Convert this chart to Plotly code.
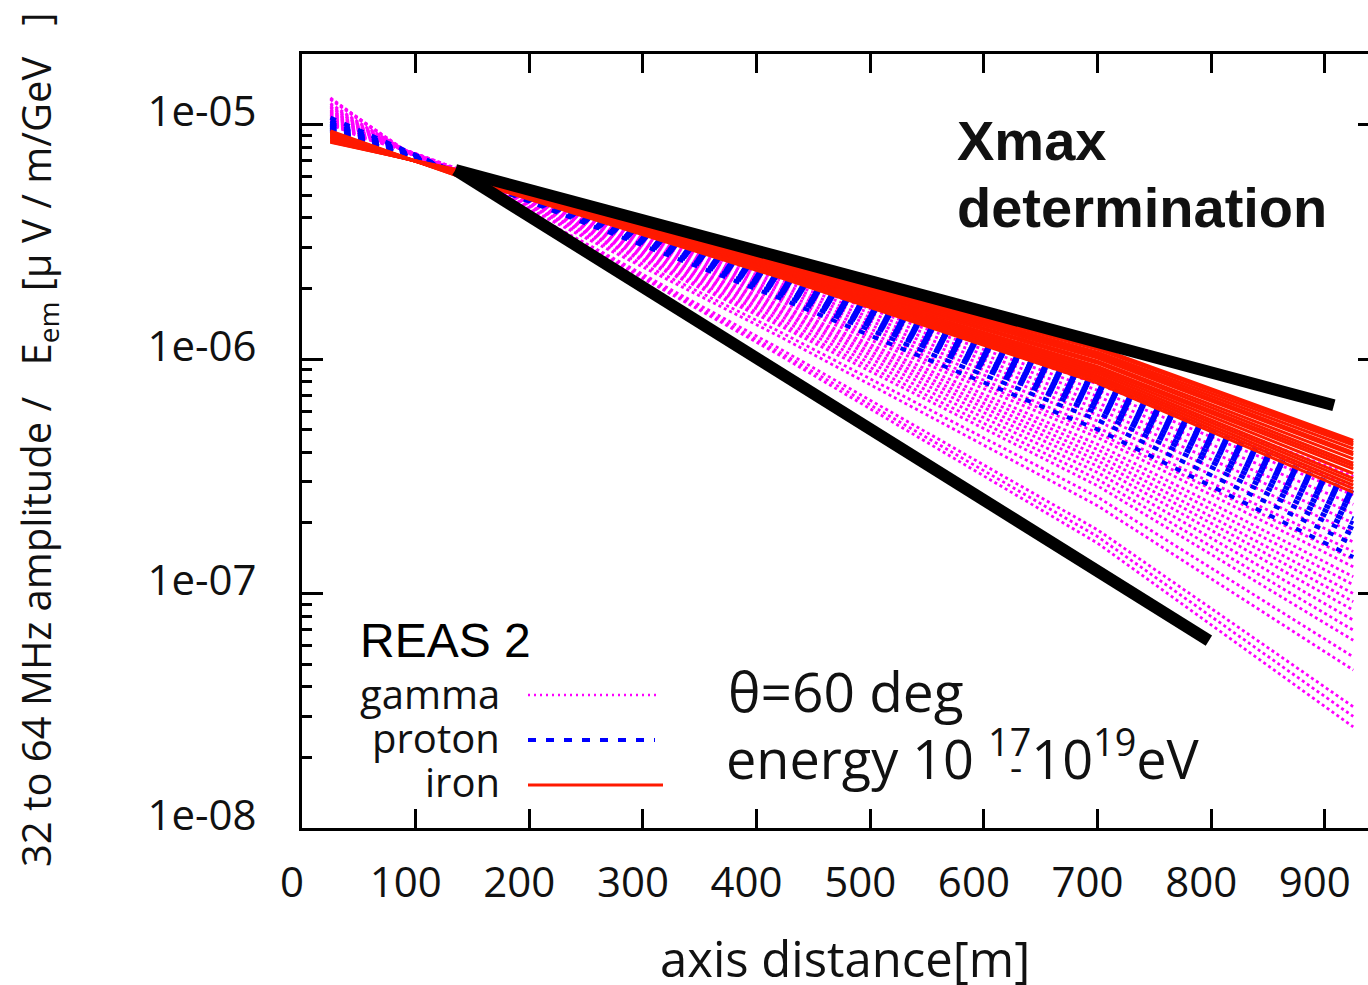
import plotly.graph_objects as go

# Lateral distribution of the radio signal, REAS 2 simulations (theta = 60 deg)
# Amplitudes in the 32-64 MHz band, normalised by E_em

X_GAMMA = [25, 55, 95, 155, 420, 700, 925]
GAMMA = [
    [1.00e-5, 8.71e-6, 7.67e-6, 6.03e-6, 2.40e-6, 8.32e-7, 3.16e-7],
    [1.01e-5, 8.76e-6, 7.66e-6, 6.01e-6, 2.32e-6, 7.83e-7, 2.88e-7],
    [1.02e-5, 8.81e-6, 7.66e-6, 5.98e-6, 2.25e-6, 7.36e-7, 2.63e-7],
    [1.03e-5, 8.87e-6, 7.65e-6, 5.96e-6, 2.18e-6, 6.93e-7, 2.40e-7],
    [1.04e-5, 8.92e-6, 7.64e-6, 5.94e-6, 2.11e-6, 6.52e-7, 2.19e-7],
    [1.05e-5, 8.98e-6, 7.64e-6, 5.92e-6, 2.05e-6, 6.14e-7, 2.00e-7],
    [1.06e-5, 9.03e-6, 7.63e-6, 5.90e-6, 1.99e-6, 5.77e-7, 1.82e-7],
    [1.07e-5, 9.08e-6, 7.63e-6, 5.88e-6, 1.93e-6, 5.44e-7, 1.66e-7],
    [1.08e-5, 9.14e-6, 7.62e-6, 5.86e-6, 1.87e-6, 5.11e-7, 1.51e-7],
    [1.09e-5, 9.19e-6, 7.61e-6, 5.84e-6, 1.82e-6, 4.85e-7, 1.40e-7],
    [1.10e-5, 9.23e-6, 7.61e-6, 5.83e-6, 1.77e-6, 4.63e-7, 1.30e-7],
    [1.11e-5, 9.29e-6, 7.60e-6, 5.81e-6, 1.71e-6, 4.33e-7, 1.18e-7],
    [1.12e-5, 9.34e-6, 7.60e-6, 5.79e-6, 1.67e-6, 4.11e-7, 1.09e-7],
    [1.13e-5, 9.39e-6, 7.59e-6, 5.77e-6, 1.62e-6, 3.89e-7, 1.00e-7],
    [1.14e-5, 9.44e-6, 7.59e-6, 5.75e-6, 1.58e-6, 3.69e-7, 9.23e-8],
    [1.15e-5, 9.49e-6, 7.58e-6, 5.74e-6, 1.53e-6, 3.49e-7, 8.49e-8],
    [1.16e-5, 9.55e-6, 7.57e-6, 5.71e-6, 1.48e-6, 3.28e-7, 7.71e-8],
    [1.18e-5, 9.62e-6, 7.57e-6, 5.69e-6, 1.43e-6, 3.07e-7, 6.98e-8],
    [1.19e-5, 9.68e-6, 7.56e-6, 5.67e-6, 1.39e-6, 2.88e-7, 6.32e-8],
    [1.21e-5, 9.78e-6, 7.55e-6, 5.64e-6, 1.31e-6, 2.58e-7, 5.37e-8],
    [1.23e-5, 9.86e-6, 7.54e-6, 5.61e-6, 1.25e-6, 2.37e-7, 4.72e-8],
    [1.28e-5, 1.01e-5, 7.51e-6, 5.53e-6, 1.11e-6, 1.87e-7, 3.29e-8],
    [1.29e-5, 1.02e-5, 7.50e-6, 5.51e-6, 1.07e-6, 1.75e-7, 2.99e-8],
    [1.30e-5, 1.02e-5, 7.50e-6, 5.50e-6, 1.04e-6, 1.64e-7, 2.70e-8],
]

X_PROTON = [25, 155, 420, 700, 925]
PROTON = [
    [9.42e-6, 5.82e-6, 2.23e-6, 7.94e-7, 2.69e-7],
    [9.49e-6, 5.81e-6, 2.20e-6, 7.73e-7, 2.59e-7],
    [9.56e-6, 5.80e-6, 2.18e-6, 7.52e-7, 2.49e-7],
    [9.64e-6, 5.80e-6, 2.15e-6, 7.31e-7, 2.40e-7],
    [9.73e-6, 5.79e-6, 2.12e-6, 7.08e-7, 2.30e-7],
    [9.81e-6, 5.78e-6, 2.09e-6, 6.85e-7, 2.20e-7],
    [9.92e-6, 5.77e-6, 2.05e-6, 6.61e-7, 2.09e-7],
    [1.00e-5, 5.76e-6, 2.02e-6, 6.37e-7, 1.99e-7],
    [1.01e-5, 5.75e-6, 1.99e-6, 6.14e-7, 1.89e-7],
    [1.02e-5, 5.74e-6, 1.95e-6, 5.89e-7, 1.78e-7],
    [1.04e-5, 5.71e-6, 1.89e-6, 5.50e-7, 1.62e-7],
    [1.07e-5, 5.69e-6, 1.82e-6, 5.01e-7, 1.43e-7],
]

X_IRON = [25, 155, 420, 700, 925]
IRON = [
    [8.40e-6, 6.15e-6, 2.57e-6, 1.12e-6, 4.50e-7],
    [8.45e-6, 6.10e-6, 2.55e-6, 1.10e-6, 4.40e-7],
    [8.50e-6, 6.05e-6, 2.52e-6, 1.07e-6, 4.30e-7],
    [8.60e-6, 6.00e-6, 2.50e-6, 1.05e-6, 4.15e-7],
    [8.65e-6, 5.98e-6, 2.48e-6, 1.03e-6, 4.00e-7],
    [8.70e-6, 5.95e-6, 2.45e-6, 1.01e-6, 3.90e-7],
    [8.80e-6, 5.90e-6, 2.43e-6, 9.80e-7, 3.75e-7],
    [8.85e-6, 5.87e-6, 2.41e-6, 9.60e-7, 3.60e-7],
    [8.90e-6, 5.83e-6, 2.38e-6, 9.30e-7, 3.50e-7],
    [9.00e-6, 5.80e-6, 2.36e-6, 9.10e-7, 3.40e-7],
    [9.05e-6, 5.77e-6, 2.34e-6, 8.90e-7, 3.25e-7],
    [9.10e-6, 5.74e-6, 2.32e-6, 8.70e-7, 3.10e-7],
    [9.20e-6, 5.70e-6, 2.30e-6, 8.50e-7, 3.00e-7],
    [9.25e-6, 5.68e-6, 2.28e-6, 8.30e-7, 2.90e-7],
    [9.30e-6, 5.65e-6, 2.25e-6, 8.10e-7, 2.80e-7],
    [9.40e-6, 5.62e-6, 2.23e-6, 7.90e-7, 2.70e-7],
]

# Envelope lines bracketing the slopes
GUIDE_UPPER_X = [135, 908]
GUIDE_UPPER_Y = [6.4e-6, 6.35e-7]
GUIDE_LOWER_X = [135, 798]
GUIDE_LOWER_Y = [6.4e-6, 6.3e-8]

X_TICKS = [0, 100, 200, 300, 400, 500, 600, 700, 800, 900]
Y_TICKS = [1e-8, 1e-7, 1e-6, 1e-5]
Y_TICK_TEXT = ["1e-08", "1e-07", "1e-06", "1e-05"]

MAGENTA = "#ff00ff"
BLUE = "#0000ff"
RED = "#ff1a00"

LABEL_FONT = "Open Sans"
TEXT = "#111111"

fig = go.Figure()

for ys in GAMMA:
    fig.add_trace(go.Scatter(x=X_GAMMA, y=ys, mode="lines", showlegend=False,
                             line=dict(color=MAGENTA, width=2.8, dash="3px,3px")))
for ys in PROTON:
    fig.add_trace(go.Scatter(x=X_PROTON, y=ys, mode="lines", showlegend=False,
                             line=dict(color=BLUE, width=4, dash="6px,9px")))
for ys in IRON:
    fig.add_trace(go.Scatter(x=X_IRON, y=ys, mode="lines", showlegend=False,
                             line=dict(color=RED, width=3)))

for gx, gy in ((GUIDE_UPPER_X, GUIDE_UPPER_Y), (GUIDE_LOWER_X, GUIDE_LOWER_Y)):
    fig.add_trace(go.Scatter(x=gx, y=gy, mode="lines", showlegend=False,
                             line=dict(color="black", width=12)))

# invisible trace carrying the right-hand tick axis
fig.add_trace(go.Scatter(x=[None], y=[None], yaxis="y2", showlegend=False,
                         hoverinfo="skip"))

minor_vals = [k * 10.0 ** e for e in range(-8, -4) for k in range(2, 10)] + [2e-5]

fig.update_layout(
    width=1368, height=985,
    margin=dict(l=302, r=0, t=54, b=157),
    paper_bgcolor="white", plot_bgcolor="white",
    xaxis=dict(
        range=[0, 938], tickvals=X_TICKS,
        ticks="inside", ticklen=19, tickwidth=2.5, tickcolor="black",
        showline=True, linewidth=3, linecolor="black", mirror="ticks",
        showgrid=False, zeroline=False,
        tickfont=dict(family=LABEL_FONT, size=42, color=TEXT),
        ticklabelstandoff=16, ticklabelshift=-10,
    ),
    yaxis=dict(
        type="log", range=[-8, -4.699],
        tickvals=Y_TICKS, ticktext=Y_TICK_TEXT,
        ticks="inside", ticklen=21, tickwidth=2.5, tickcolor="black",
        minor=dict(tickvals=minor_vals, ticks="inside", ticklen=10,
                   tickwidth=2.5, tickcolor="black", showgrid=False),
        showline=True, linewidth=3, linecolor="black",
        showgrid=False, zeroline=False,
        tickfont=dict(family=LABEL_FONT, size=42, color=TEXT),
        ticklabelstandoff=34, ticklabelshift=-13,
    ),
    yaxis2=dict(
        type="log", range=[-8, -4.699], overlaying="y", side="right",
        anchor="x", tickvals=Y_TICKS, ticks="inside", ticklen=10,
        tickwidth=2.5, tickcolor="black", showticklabels=False,
        showline=False, showgrid=False, zeroline=False,
    ),
)

def px_x(p):
    return (p - 302) / 1066.0

def px_y(p):
    return (828 - p) / 774.0

annotations = [
    dict(x=px_x(845), y=px_y(958), text="axis distance[m]",
         font=dict(family=LABEL_FONT, size=49, color=TEXT),
         xanchor="center", yanchor="middle"),
    dict(x=px_x(38), y=px_y(440),
         text="32 to 64 MHz amplitude /\u00a0\u00a0\u00a0E<sub>em</sub> [\u03bc V / m/GeV\u00a0\u00a0\u00a0]",
         textangle=-90, font=dict(family=LABEL_FONT, size=40, color=TEXT),
         xanchor="center", yanchor="middle"),
    dict(x=px_x(955), y=px_y(140), text="<b>Xmax</b>",
         font=dict(family="Liberation Sans", size=56, color=TEXT),
         xanchor="left", yanchor="middle"),
    dict(x=px_x(955), y=px_y(207), text="<b>determination</b>",
         font=dict(family="Liberation Sans", size=56, color=TEXT),
         xanchor="left", yanchor="middle"),
    dict(x=px_x(358), y=px_y(640), text="REAS 2",
         font=dict(family="Liberation Sans", size=48, color="black"),
         xanchor="left", yanchor="middle"),
    dict(x=px_x(502), y=px_y(693), text="gamma",
         font=dict(family=LABEL_FONT, size=40, color=TEXT),
         xanchor="right", yanchor="middle"),
    dict(x=px_x(502), y=px_y(737), text="proton",
         font=dict(family=LABEL_FONT, size=40, color=TEXT),
         xanchor="right", yanchor="middle"),
    dict(x=px_x(502), y=px_y(781), text="iron",
         font=dict(family=LABEL_FONT, size=40, color=TEXT),
         xanchor="right", yanchor="middle"),
    dict(x=px_x(726), y=px_y(690), text="\u03b8=60 deg",
         font=dict(family=LABEL_FONT, size=55, color=TEXT),
         xanchor="left", yanchor="middle"),
    dict(x=px_x(724), y=px_y(755),
         text="energy 10 <sup>17</sup>10<sup>19</sup>eV",
         font=dict(family=LABEL_FONT, size=54, color=TEXT),
         xanchor="left", yanchor="middle"),
    dict(x=px_x(1016), y=px_y(766), text="-",
         font=dict(family=LABEL_FONT, size=38, color=TEXT),
         xanchor="center", yanchor="middle"),
]
for a in annotations:
    a.update(xref="paper", yref="paper", showarrow=False)
fig.update_layout(annotations=annotations)

# legend key samples
keys = [
    (695, 528, 660, MAGENTA, 2.5, "2px,4px"),
    (740, 528, 655, BLUE, 4, "8px,10px"),
    (785, 528, 663, RED, 3, "solid"),
]
for yk, x0, x1, col, w, dash in keys:
    fig.add_shape(type="line", xref="paper", yref="paper",
                  x0=px_x(x0), x1=px_x(x1), y0=px_y(yk), y1=px_y(yk),
                  line=dict(color=col, width=w, dash=dash))

fig.write_html("out.html")
